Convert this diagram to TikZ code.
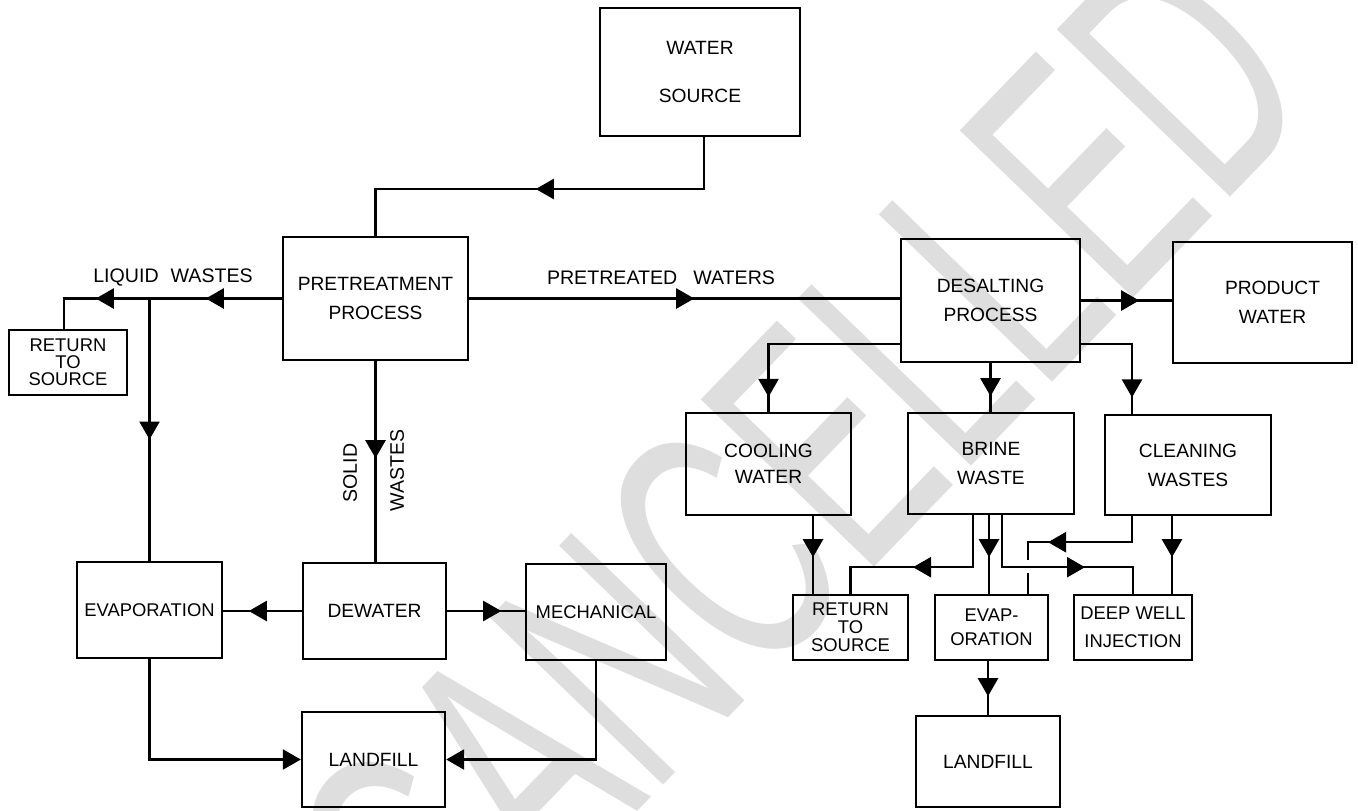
\documentclass[tikz,border=0pt]{standalone}
\usepackage{fontspec}
\usepackage{graphicx}
\setmainfont{Liberation Sans}
\usetikzlibrary{arrows.meta,decorations.markings}
\begin{document}
\begin{tikzpicture}[x=0.5pt,y=-0.5pt,
  box/.style={draw, line width=1.2pt, align=center, inner sep=0pt, font=\fontsize{9.6}{14.5}\selectfont},
  sbox/.style={box, font=\fontsize{9.2}{9}\selectfont},
  conn/.style={line width=1.2pt},
  arrowat/.style={postaction={decorate,decoration={markings,mark=at position #1 with {\arrow{Triangle[length=9pt,width=10pt]}}}}},
  endarrow/.style={-{Triangle[length=9pt,width=10pt]}},
  lbl/.style={font=\fontsize{9.8}{12}\selectfont, inner sep=0pt},
  wmark/.style={text=black!13, inner sep=0pt, font=\fontsize{175}{175}\selectfont}
]
\fill[white] (0,0) rectangle (1358,810);
\useasboundingbox (0,0) rectangle (1358,810);

% watermark
\node[wmark, rotate=46] (wm) at (800,470) {\scalebox{0.6}[1]{CANCELLED}};

% boxes
\node[box, minimum width=100pt, minimum height=64pt, font=\fontsize{9.6}{24}\selectfont] (ws) at (700,72) {WATER\\SOURCE};
\node[box, minimum width=92.5pt, minimum height=61.5pt] (pre) at (375.5,298.5) {PRETREATMENT\\PROCESS};
\node[sbox, minimum width=59pt, minimum height=32.5pt, font=\fontsize{9.2}{8.5}\selectfont] (rts1) at (68,362.5) {RETURN\\TO\\SOURCE};
\node[box, minimum width=72.5pt, minimum height=48pt, font=\fontsize{9.2}{12}\selectfont] (evap1) at (149.5,610) {EVAPORATION};
\node[box, minimum width=71.5pt, minimum height=48pt] (dew) at (374.5,611) {DEWATER};
\node[box, minimum width=70pt, minimum height=48pt, font=\fontsize{9.2}{12}\selectfont] (mech) at (596,612) {MECHANICAL};
\node[box, minimum width=71.5pt, minimum height=47.5pt] (lf1) at (373.5,759.5) {LANDFILL};
\node[box, minimum width=89.5pt, minimum height=61.5pt] (des) at (990.5,300.5) {DESALTING\\PROCESS};
\node[box, minimum width=89.5pt, minimum height=60.5pt] (prod) at (1262.5,302.5) {\hspace*{10pt}PRODUCT\\\hspace*{10pt}WATER};
\node[box, minimum width=82.5pt, minimum height=51pt, font=\fontsize{9.6}{13}\selectfont] (cool) at (768.5,464) {COOLING\\WATER};
\node[box, minimum width=83pt, minimum height=50.5pt] (brine) at (991,463.5) {BRINE\\WASTE};
\node[box, minimum width=83pt, minimum height=50pt] (clean) at (1188,465) {CLEANING\\WASTES};
\node[sbox, minimum width=57.5pt, minimum height=32.5pt] (rts2) at (850.5,627.5) {RETURN\\TO\\SOURCE};
\node[sbox, minimum width=56.5pt, minimum height=32.5pt, font=\fontsize{9.2}{12}\selectfont] (evap2) at (991.5,627.5) {EVAP-\\ORATION};
\node[sbox, minimum width=59pt, minimum height=32.5pt, font=\fontsize{9.2}{14}\selectfont] (deep) at (1133,627.5) {DEEP WELL\\INJECTION};
\node[box, minimum width=72pt, minimum height=45.5pt] (lf2) at (988,761.5) {LANDFILL};

% labels
\node[lbl] (lliq) at (173,277) {LIQUID\hspace{6pt}WASTES};
\node[lbl] (lpre) at (661,278) {PRETREATED\hspace{8pt}WATERS};
\node[lbl, rotate=90] (lsol) at (350,473) {SOLID};
\node[lbl, rotate=90] (lwas) at (397,470) {WASTES};

% connectors
\draw[conn, arrowat=110pt] (ws.south -| 704,0) -- (704,189) -| (pre.north);
\draw[conn, arrowat=38pt, arrowat=93pt] (pre.west) -| (rts1.north -| 64,0);
\coordinate (lj) at (evap1.north |- pre.west);
\draw[conn, arrowat=70.5pt] (lj) -- (evap1.north);
\draw[conn, arrowat=48.5pt] (pre.south) -- (pre.south |- dew.north);
\draw[conn, arrowat=26.5pt] (dew.west) -- (dew.west -| evap1.east);
\draw[conn, arrowat=27pt] (dew.east) -- (dew.east -| mech.west);
\draw[conn, endarrow] (evap1.south) |- (lf1.west);
\draw[conn, endarrow] (mech.south) |- (lf1.east);
\draw[conn, arrowat=112.5pt] (pre.east) -- (pre.east -| des.west);
\draw[conn, arrowat=29pt] (des.east) -- (des.east -| prod.west);
\draw[conn, arrowat=92pt] ([yshift=9.5pt]des.south west) -| (cool.north);
\draw[conn, arrowat=16.5pt] (des.south) -- (des.south |- brine.north);
\draw[conn, arrowat=52pt] ([yshift=9.5pt]des.south east) -| (clean.north -| 1132,0);
\draw[conn, arrowat=20.5pt] (cool.south -| 813,0) -- (rts2.north -| 813,0);
\draw[conn, arrowat=56pt] (brine.south -| 973,0) -- ++(0,52) -| (rts2.north);
\draw[conn, arrowat=21pt] (brine.south -| 989,0) -- (evap2.north -| 989,0);
\draw[conn, arrowat=67.5pt] (brine.south -| 1002,0) -- ++(0,52) -| (deep.north);
\coordinate (gapA) at (1028,560);
\coordinate (gapB) at (1028,573);
\draw[conn, arrowat=55pt] (clean.south -| 1132,0) -- ++(0,26) -| (gapA);
\draw[conn] (gapB) -- (evap2.north -| gapB);
\draw[conn, arrowat=20.5pt] (clean.south -| 1172,0) -- (deep.north -| 1172,0);
\draw[conn, arrowat=17.5pt] (evap2.south -| lf2.north) -- (lf2.north);
\end{tikzpicture}
\end{document}
